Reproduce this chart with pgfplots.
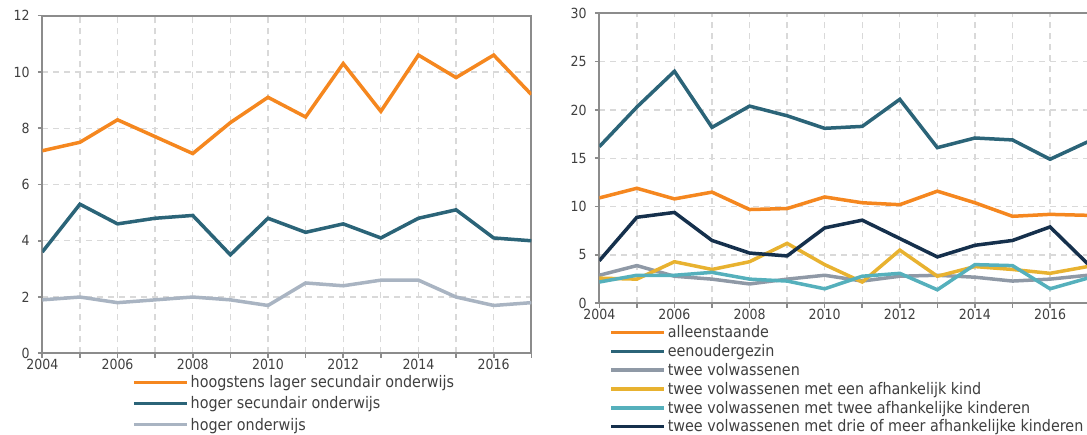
\documentclass[border=0pt]{standalone}
\usepackage{pgfplots}
\pgfplotsset{compat=1.18}
\usepackage{fontspec}
\setmainfont{DejaVu Sans Condensed}
\definecolor{cOr}{HTML}{F5871F}
\definecolor{cTeal}{HTML}{2B6478}
\definecolor{cLgray}{HTML}{A9B4C2}
\definecolor{cGray}{HTML}{8F99A6}
\definecolor{cYel}{HTML}{E8B230}
\definecolor{cLteal}{HTML}{55B0BC}
\definecolor{cNavy}{HTML}{15304C}
\definecolor{axgray}{HTML}{8C8C8C}
\definecolor{gridgray}{HTML}{D9D9D9}
\definecolor{txtgray}{HTML}{3F3F3F}
\pgfplotsset{mystyle/.style={
  scale only axis,
  axis line style={draw=axgray, line width=2.2bp},
  xmajorgrids, xminorgrids, ymajorgrids,
  grid style={dash pattern=on 6bp off 5bp, draw=gridgray, line width=1.3bp},
  minor grid style={dash pattern=on 6bp off 5bp, draw=gridgray, line width=1.3bp},
  tick style={draw=axgray, line width=1.6bp},
  tick align=outside, major tick length=4.5bp, minor tick length=4.5bp,
  ytick pos=left, xtick pos=lower,
  ticklabel style={font=\fontsize{14}{14}\selectfont, text=txtgray},
  /pgf/number format/assume math mode=true,
  xticklabel style={/pgf/number format/1000 sep={}, inner sep=0bp, yshift=-1.5bp},
  yticklabel style={inner sep=0bp, xshift=-8bp},
  xmin=2004, xmax=2017,
  xtick={2004,2006,...,2016}, minor xtick={2005,2007,...,2017},
  legend style={draw=none, fill=none, font=\fontsize{16}{16}\selectfont, text=txtgray, inner sep=0pt},
  legend cell align=left,
  legend image code/.code={\draw[##1,line width=3.5bp] (0bp,0bp) -- (53bp,0bp);},
  every axis plot/.append style={line width=3.5bp},
}}
\begin{document}
\begin{tikzpicture}
\useasboundingbox (0,0) rectangle (1087bp,435bp);
\begin{axis}[mystyle,
  at={(42.3bp,81.7bp)}, anchor=south west,
  width=489bp, height=337.6bp,
  ymin=0, ymax=12, ytick={0,2,...,12},
  legend style={at={(axis description cs:0.1834,-0.06)}, anchor=north west, row sep=3.5bp},
]
\addplot[cOr] coordinates {(2004,7.2)(2005,7.5)(2006,8.3)(2007,7.7)(2008,7.1)(2009,8.2)(2010,9.1)(2011,8.4)(2012,10.3)(2013,8.6)(2014,10.6)(2015,9.8)(2016,10.6)(2017,9.2)};
\addlegendentry{hoogstens lager secundair onderwijs}
\addplot[cTeal] coordinates {(2004,3.6)(2005,5.3)(2006,4.6)(2007,4.8)(2008,4.9)(2009,3.5)(2010,4.8)(2011,4.3)(2012,4.6)(2013,4.1)(2014,4.8)(2015,5.1)(2016,4.1)(2017,4.0)};
\addlegendentry{hoger secundair onderwijs}
\addplot[cLgray] coordinates {(2004,1.9)(2005,2.0)(2006,1.8)(2007,1.9)(2008,2.0)(2009,1.9)(2010,1.7)(2011,2.5)(2012,2.4)(2013,2.6)(2014,2.6)(2015,2.0)(2016,1.7)(2017,1.8)};
\addlegendentry{hoger onderwijs}
\end{axis}
\begin{axis}[mystyle,
  at={(599.3bp,131.7bp)}, anchor=south west,
  width=488.3bp, height=290bp,
  ymin=0, ymax=30, ytick={0,5,...,30},
  legend style={at={(axis description cs:0.02,-0.07)}, anchor=north west, row sep=1.2bp},
]
\addplot[cOr] coordinates {(2004,10.9)(2005,11.9)(2006,10.8)(2007,11.5)(2008,9.7)(2009,9.8)(2010,11.0)(2011,10.4)(2012,10.2)(2013,11.6)(2014,10.4)(2015,9.0)(2016,9.2)(2017,9.1)};
\addlegendentry{alleenstaande}
\addplot[cTeal] coordinates {(2004,16.2)(2005,20.3)(2006,24.0)(2007,18.2)(2008,20.4)(2009,19.4)(2010,18.1)(2011,18.3)(2012,21.1)(2013,16.1)(2014,17.1)(2015,16.9)(2016,14.9)(2017,16.7)};
\addlegendentry{eenoudergezin}
\addplot[cGray] coordinates {(2004,2.9)(2005,3.9)(2006,2.8)(2007,2.5)(2008,2.0)(2009,2.5)(2010,2.9)(2011,2.3)(2012,2.8)(2013,2.9)(2014,2.7)(2015,2.3)(2016,2.5)(2017,2.9)};
\addlegendentry{twee volwassenen}
\addplot[cYel] coordinates {(2004,2.6)(2005,2.5)(2006,4.3)(2007,3.5)(2008,4.3)(2009,6.2)(2010,4.0)(2011,2.2)(2012,5.5)(2013,2.8)(2014,3.8)(2015,3.5)(2016,3.1)(2017,3.8)};
\addlegendentry{twee volwassenen met een afhankelijk kind}
\addplot[cLteal] coordinates {(2004,2.2)(2005,2.9)(2006,2.9)(2007,3.2)(2008,2.5)(2009,2.3)(2010,1.5)(2011,2.8)(2012,3.1)(2013,1.4)(2014,4.0)(2015,3.9)(2016,1.5)(2017,2.6)};
\addlegendentry{twee volwassenen met twee afhankelijke kinderen}
\addplot[cNavy] coordinates {(2004,4.4)(2005,8.9)(2006,9.4)(2007,6.5)(2008,5.2)(2009,4.9)(2010,7.8)(2011,8.6)(2012,6.7)(2013,4.8)(2014,6.0)(2015,6.5)(2016,7.9)(2017,4.1)};
\addlegendentry{twee volwassenen met drie of meer afhankelijke kinderen}
\end{axis}
\end{tikzpicture}
\end{document}
